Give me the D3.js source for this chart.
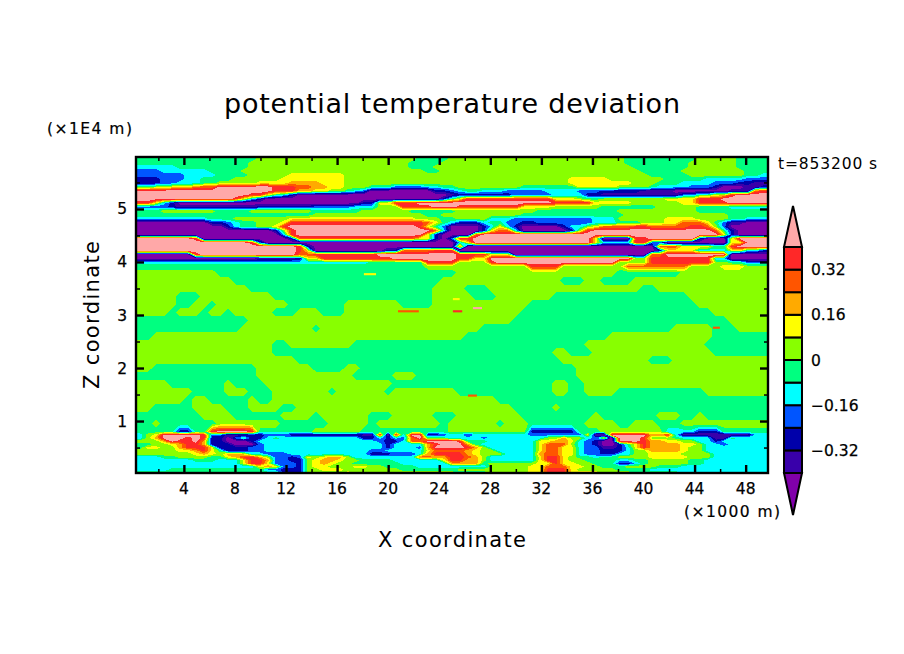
<!DOCTYPE html>
<html><head><meta charset="utf-8">
<script src="https://d3js.org/d3.v7.min.js"></script>
<style>html,body{margin:0;background:#fff}svg{display:block}text{font-family:"DejaVu Sans",sans-serif;fill:#000}</style>
</head><body><svg id="c" width="904" height="654"></svg>
<script>
// Colour classes, lowest to highest (a..l)
const bandCodes = "abcdefghijkl".split("");
const bandColors = ["#8000aa","#3900aa","#0000aa","#0055ff","#00ffff","#00ff80","#88ff00","#ffff00","#ffaa00","#ff5500","#ff2828","#ffa8a8"];
const bandValues = [-0.44,-0.36,-0.28,-0.20,-0.12,-0.04,0.04,0.12,0.20,0.28,0.36,0.44];
const contourLevels = [-0.40,-0.32,-0.24,-0.16,-0.08,0,0.08,0.16,0.24,0.32,0.40];
const legendLabels = [-0.32,-0.16,0,0.16,0.32];
const xMajor = [4,8,12,16,20,24,28,32,36,40,44,48];
const xMinor = [2,6,10,14,18,22,26,30,34,38,42,46];
const zMajor = [1,2,3,4,5];
const zMinor = [0.5,1.5,2.5,3.5,4.5,5.5];
const xDomain = [0.25,49.75];
const zDomain = [0.02,5.98];
const columnCount = 79;
// Height (×1E4 m) of each row in the field below
const zRows = [5.94,5.865,5.79,5.715,5.64,5.565,5.49,5.415,5.34,5.265,5.19,5.115,5.04,4.965,4.89,4.815,4.74,4.665,4.59,4.515,4.44,4.365,4.29,4.215,4.14,4.065,3.99,3.915,
 3.8,3.65,3.5,3.35,3.2,3.05,2.9,2.75,2.6,2.45,2.3,2.15,2,1.85,1.7,1.55,1.4,1.25,1.1,0.95,
 0.8,0.74,0.68,0.62,0.56,0.5,0.44,0.38,0.32,0.26,0.2,0.14,0.08,0.03];
// Field: class letter + column where the run ends
const fieldRuns = [
"f15 g35 f39 g61 f70 g75 f79",
"f14 g34 f38 g61 f69 g75 f79",
"e5 f14 g34 f37 g62 f69 g75 f79",
"d3 e9 f13 g36 f38 g63 f68 g76 f79",
"d6 e10 f14 g19 h26 g64 f69 g76 f78 e79",
"c3 d6 e8 f12 g18 h26 g54 h59 g66 f71 e76 d79",
"c3 d5 e8 f10 g15 h19 i23 h26 g54 h62 g65 f68 e72 d75 c77 b79",
"f2 g4 h7 j10 l17 k20 j22 i24 h26 g29 f32 d36 e38 f40 g48 f55 h60 g64 f65 e69 d72 c73 a76 b78 c79",
"l17 k20 i22 h24 g26 f27 e28 d29 a37 c39 d40 e41 f43 e46 d51 e55 d58 c63 b67 a74 b77 j78 k79",
"l14 k16 h17 f18 e19 c20 a39 b40 c47 d52 e56 c58 b68 d70 f72 h74 k75 l79",
"l12 k13 h14 e15 c16 a38 c39 f40 h41 k52 h55 g56 f58 g66 h70 k73 l79",
"k2 h3 e4 c5 a28 c30 h32 k35 l52 k57 h62 g68 h70 k74 l79",
"d4 c5 b15 c22 d27 e30 g33 k37 l40 k48 h52 g58 f65 g70 f74 e79",
"f3 g10 f14 g22 f28 g34 f40 g50 f60 g70 f79",
"f22 g36 f38 g48 f61 g74 f79",
"e9 f12 g19 h35 g38 f40 g44 e47 d57 e60 g66 h70 g74 f76 e79",
"a9 c11 d12 e13 f15 g18 h19 k36 j37 h38 f39 e40 c43 e44 f46 d48 c50 d57 e60 f63 g66 h68 j71 h72 f73 d74 b76 a79",
"a11 c12 e13 f15 g17 h18 k19 l35 k36 h37 f38 d39 a43 c44 e45 h46 e47 c48 a53 c54 e56 g57 h58 j62 k64 j69 k71 j72 g73 d74 a79",
"a17 c18 g19 k20 l37 j38 e39 a43 c44 h45 j47 e48 a54 c55 g56 k57 l72 j73 f74 c75 a79",
"a18 e19 k20 l36 h37 c38 a42 j43 l73 h74 c75 a79",
"l7 k8 a19 c20 j35 h37 c38 a39 d40 k42 l57 h58 a62 k64 l70 c71 a74 h75 l79",
"l14 k15 d16 a40 e41 h42 l57 h58 e62 k64 d66 a74 h76 l79",
"l20 k21 c22 a40 j41 a65 j68 h72 f74 k75 l79",
"l20 k21 h22 a31 c33 j37 k40 a65 c66 h70 e74 h76 e78 c79",
"a7 k8 l20 j22 k30 l40 k44 h47 a64 j66 l74 a79",
"a15 b20 c21 h23 k32 l40 k42 h44 l62 g64 k72 e74 a79",
"e29 f36 k40 g44 k45 l60 g64 k72 g74 f76 d79",
"f36 g49 k53 g61 j69 g73 h76 g79",
"g10 f40 g60 f68 g79",
"g12 f38 g53 f56 g58 f62 g79",
"g14 f37 g41 f44 g63 f65 g79",
"g5 f8 g17 f37 g42 f45 g52 f69 g79",
"g5 f7 g9 f10 g19 f26 g33 f37 g49 f70 g79",
"g4 f5 g8 f9 g11 f12 g17 f20 g23 f26 g48 f72 g79",
"f14 g47 f74 g79",
"f13 g22 f23 g43 f67 g72 f75 g79",
"f2 g41 f59 g72 f79",
"g17 f19 g27 f56 g71 f79",
"g17 f52 g54 f57 g72 f79",
"g20 f53 g64 f67 g79",
"g2 f15 g22 f26 g28 f55 g79",
"f15 g27 f32 g35 f55 g79",
"g4 f11 g12 f16 g32 f52 g54 f56 g79",
"g7 f11 g14 f17 g24 f25 g31 f32 g40 f52 g54 f56 g60 f71 g79",
"g6 f7 g9 f14 g15 f17 g45 f79",
"g2 f7 g11 f14 g18 f20 g47 f52 g53 f79",
"f8 g12 f18 g22 f23 g29 f32 g37 f40 g48 f57 g58 f65 g68 f70 g71 f79",
"f2 g3 f10 g18 f24 g29 f30 g38 f39 g45 f46 g49 f56 g60 f62 g65 f68 g79",
"f5 c7 f9 k10 l14 k15 f22 g28 f39 g49 c55 f58 g66 e70 c73 f79",
"e1 g2 h3 l8 k9 d11 b14 c16 d19 c28 b30 k31 a32 k33 e34 l36 c38 d39 e41 c42 e49 d56 h57 a59 l64 i66 k67 e68 b77 e79",
"e1 g2 i3 l6 k7 l8 k9 c11 a12 d13 f14 c16 e17 f18 e28 c30 e31 c32 e33 d34 j35 l36 f39 e43 d44 e51 g53 i54 g56 e57 d58 h59 a60 l63 k64 g67 f68 e72 b74 f75 e79",
"g3 i4 l5 k7 l8 i9 c11 a14 c15 e30 d31 c33 e34 j36 l40 k41 f44 e50 h52 i54 h55 e56 d57 c58 a60 l63 k64 i66 h68 g70 e72 c73 e79",
"f2 g4 h5 i6 k8 i9 c12 a15 d16 e31 c32 e36 i37 k38 l41 i42 f43 e50 h51 j54 g55 e56 d57 c58 a60 c61 f62 h63 k64 i68 h70 g71 e73 d74 e79",
"f1 h3 g5 i6 k9 h10 c14 d16 e31 c32 e35 d36 i37 l41 k42 i43 g44 e50 h51 j53 h55 e56 d58 b60 c61 e62 h63 k64 i68 h69 g71 e79",
"g5 h7 i8 k9 h10 f11 c14 d16 e29 d31 e36 h37 j41 i42 h43 g45 e50 h51 j53 h55 e56 d58 c61 e62 g64 i68 h69 g71 e79",
"g7 h8 i9 h10 g11 i13 h14 e16 d19 e29 c32 d35 e36 i37 k41 i42 h43 g46 e50 i51 j53 h55 e56 d58 c60 e62 g64 h68 g72 e79",
"e3 f5 g9 f11 h12 i13 k15 i16 g17 d19 c20 d21 h22 g23 h24 i26 g27 e35 j37 i39 k41 j42 i43 g44 e50 h51 k53 h54 g55 f57 e58 f60 g64 h69 g72 e79",
"e7 f10 e13 h14 k16 i17 d19 c21 g22 h23 i25 h26 g28 f32 e38 h39 k41 i43 g44 e50 h51 k53 h54 g56 f60 e62 f64 g69 f71 e79",
"e13 h14 k16 h17 d20 c21 g22 h23 i24 h25 g27 f33 e39 i43 f44 g50 h52 k53 h55 g57 f60 c62 e63 f64 g69 f71 e79",
"e15 h16 i17 h18 d20 c21 g22 h24 g27 h29 g31 f35 e44 g49 h51 j54 h56 g58 f61 g65 f68 e79",
"e4 f16 d18 c21 g23 h26 g33 f40 g49 h51 k54 h55 g60 f64 e79",
"f18 c21 g26 h27 g40 f44 g49 h51 k54 h58 g62 f68 e79"
];
// Isolated thin streaks in the quiet middle layer
const streakX0 = [20.77,25.07,26.64,26.25,45.43,25.07,18.1];
const streakX1 = [22.4,25.8,27.35,26.95,45.98,25.6,19.05];
const streakZ = [3.07,3.07,3.13,1.48,2.76,3.3,3.77];
const streakClass = ["j","k","l","j","j","h","h"];

const svg = d3.select("#c");
const x = d3.scaleLinear().domain(xDomain).range([136,768]);
const y = d3.scaleLinear().domain(zDomain).range([473,157]);
const legendY = d3.scaleLinear().domain([-0.40,0.40]).range([473,247]);

// expand the runs into a padded value grid so contours reach the frame
const grid = fieldRuns.map(r => {
  const row = new Array(columnCount); let s = 0;
  r.split(" ").forEach(t => { const e = +t.slice(1), v = bandValues[bandCodes.indexOf(t[0])];
    for (; s < e; s++) row[s] = v; });
  return row;
});
const padded = [grid[0], ...grid, grid[grid.length-1]].map(r => [r[0], ...r, r[columnCount-1]]);
const nx = columnCount + 2, ny = padded.length;
const values = padded.flat();
const colToKm = d3.scaleLinear().domain([1, columnCount+1]).range(xDomain);
const rowToZ = d3.scaleLinear().domain(zRows.map((_,i)=>i+1.5)).range(zRows);
const path = d3.geoPath(d3.geoTransform({point(a,b){ this.stream.point(x(colToKm(a)), y(rowToZ(b))); }}));

svg.append("clipPath").attr("id","plot").append("rect").attr("x",136).attr("y",157).attr("width",632).attr("height",316);
const plot = svg.append("g").attr("clip-path","url(#plot)");
plot.append("rect").attr("x",136).attr("y",157).attr("width",632).attr("height",316).attr("fill",bandColors[0]);
plot.selectAll("path").data(d3.contours().size([nx,ny]).thresholds(contourLevels)(values)).join("path")
  .attr("d",path).attr("fill",(d,i)=>bandColors[i+1]).attr("shape-rendering","crispEdges");
plot.selectAll("rect.streak").data(streakZ).join("rect").attr("class","streak")
  .attr("x",(d,i)=>x(streakX0[i])).attr("width",(d,i)=>x(streakX1[i])-x(streakX0[i]))
  .attr("y",d=>y(d+0.02)).attr("height",d=>y(d-0.02)-y(d+0.02))
  .attr("fill",(d,i)=>bandColors[bandCodes.indexOf(streakClass[i])]);

// axes
function ticks(axis, vals, size, w){
  const g = svg.append("g").call(axis.tickValues(vals).tickSize(size).tickFormat(""));
  g.select(".domain").remove();
  g.selectAll("line").attr("stroke","#000").attr("stroke-width",w);
  return g;
}
ticks(d3.axisBottom(x),xMajor,-8,2.4).attr("transform","translate(0,473)");
ticks(d3.axisBottom(x),xMinor,-4,1.5).attr("transform","translate(0,473)");
ticks(d3.axisTop(x),xMajor,-8,2.4).attr("transform","translate(0,157)");
ticks(d3.axisTop(x),xMinor,-4,1.5).attr("transform","translate(0,157)");
ticks(d3.axisLeft(y),zMajor,-8,2.4).attr("transform","translate(136,0)");
ticks(d3.axisLeft(y),zMinor,-4,1.5).attr("transform","translate(136,0)");
ticks(d3.axisRight(y),zMajor,-8,2.4).attr("transform","translate(768,0)");
ticks(d3.axisRight(y),zMinor,-4,1.5).attr("transform","translate(768,0)");
svg.append("rect").attr("x",136).attr("y",157).attr("width",632).attr("height",316).attr("fill","none").attr("stroke","#000").attr("stroke-width",2.4);

const label = (t,px,py,size,o={}) => svg.append("text").attr("x",px).attr("y",py).attr("font-size",size)
  .attr("text-anchor",o.anchor||"start").attr("textLength",o.len||null).attr("lengthAdjust","spacing")
  .attr("stroke",o.bold?"#000":null).attr("stroke-width",o.bold||null)
  .attr("transform",o.rot?`rotate(${o.rot} ${px} ${py})`:null).text(t);

xMajor.forEach(v => label(v,x(v),494,15.5,{anchor:"middle",bold:.25}));
zMajor.forEach(v => label(v,127,y(v)+5.5,15.5,{anchor:"end",bold:.25}));
label("potential temperature deviation",224,113,27,{len:456});
label("(×1E4 m)",47,134,15.5,{len:85,bold:.2});
label("(×1000 m)",684,517,15.5,{len:96,bold:.2});
label("X coordinate",378,547,21,{len:148});
label("Z coordinate",99,389,21,{len:148,rot:-90});
label("t=853200 s",778,169,15.5,{len:99});

// colour bar
const legend = svg.append("g").attr("stroke","#000").attr("stroke-width",2);
const bx0 = 784, bx1 = 802, bxm = 793;
contourLevels.slice(0,-1).forEach((v,i) => legend.append("rect").attr("x",bx0).attr("width",bx1-bx0)
  .attr("y",legendY(contourLevels[i+1])).attr("height",legendY(v)-legendY(contourLevels[i+1])).attr("fill",bandColors[i+1]));
const topY = legendY(0.40), botY = legendY(-0.40);
legend.append("path").attr("d",`M${bx0},${topY}L${bxm},${topY-41}L${bx1},${topY}Z`).attr("fill",bandColors[11]);
legend.append("path").attr("d",`M${bx0},${botY}L${bxm},${botY+42}L${bx1},${botY}Z`).attr("fill",bandColors[0]);
legendLabels.forEach(v => label(v===0?"0":(v<0?"\u2212":"")+Math.abs(v).toFixed(2),811,legendY(v)+5.5,15.5,{bold:.25}));
</script></body></html>
